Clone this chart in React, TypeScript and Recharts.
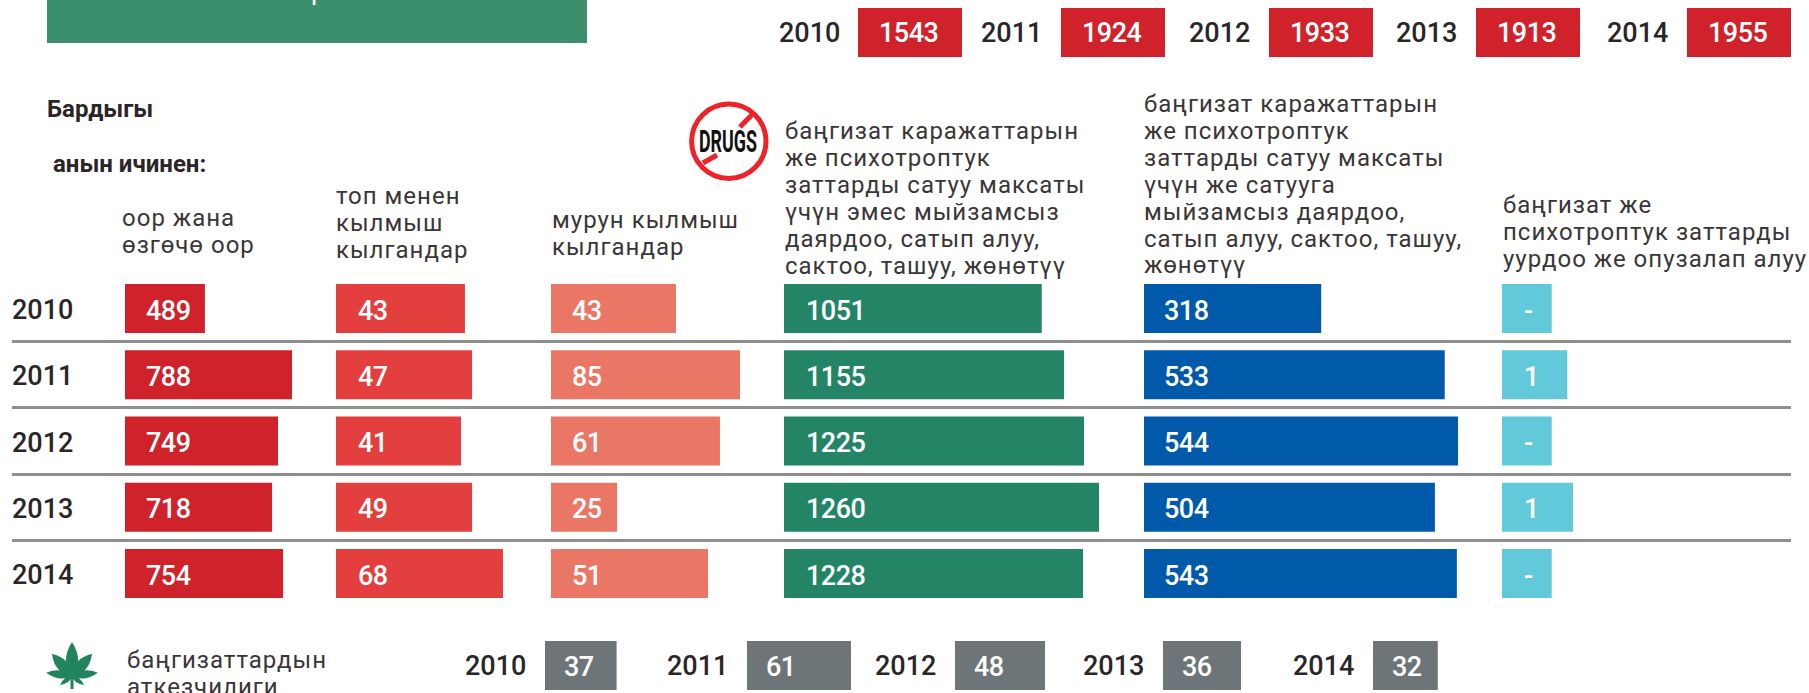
// App.tsx
import React from 'react';
import { BarChart, Bar, XAxis, YAxis, LabelList } from 'recharts';

const years = ['2010', '2011', '2012', '2013', '2014'];

// Printed numbers. The infographic's bars are not to scale with them, so each
// column also has the length the bar is actually drawn at, in that column's units.
const totalPrinted = [1543, 1924, 1933, 1913, 1955];
const totalDrawn = [1955, 1955, 1955, 1955, 1955];

const robberyPrinted = [489, 788, 749, 718, 754];
const robberyDrawn = [377, 788, 722, 694, 746];

const groupPrinted = [43, 47, 41, 49, 68];
const groupDrawn = [52.5, 55.4, 50.9, 55.4, 68];

const repeatPrinted = [43, 85, 61, 25, 51];
const repeatDrawn = [56.2, 85, 76, 29.7, 70.6];

const noSalePrinted = [1051, 1155, 1225, 1260, 1228];
const noSaleDrawn = [1031, 1120, 1200, 1260, 1196];

const salePrinted = [318, 533, 544, 504, 543];
const saleDrawn = [307, 521, 544, 504, 542];

const theftPrinted = ['-', '1', '-', '1', '-'];
const theftDrawn = [0.7, 0.92, 0.7, 1, 0.7];

const addictsPrinted = [37, 61, 48, 36, 32];
const addictsDrawn = [42, 61, 53, 46, 38];

const headRobbery = ['оор жана', 'өзгөчө оор'];
const headGroup = ['топ менен', 'кылмыш', 'кылгандар'];
const headRepeat = ['мурун кылмыш', 'кылгандар'];
const headNoSale = [
  'баңгизат каражаттарын',
  'же психотроптук',
  'заттарды сатуу максаты',
  'үчүн эмес мыйзамсыз',
  'даярдоо, сатып алуу,',
  'сактоо, ташуу, жөнөтүү',
];
const headSale = [
  'баңгизат каражаттарын',
  'же психотроптук',
  'заттарды сатуу максаты',
  'үчүн же сатууга',
  'мыйзамсыз даярдоо,',
  'сатып алуу, сактоо, ташуу,',
  'жөнөтүү',
];
const headTheft = ['баңгизат же', 'психотроптук заттарды', 'уурдоо же опузалап алуу'];
const headAddicts = ['баңгизаттардын', 'аткезчилиги'];

const FONT = 'Roboto, sans-serif';
const INK = '#2a2627';

const toRows = (drawn: number[], printed: (number | string)[]) =>
  years.map((year, i) => ({ year, drawn: drawn[i], printed: printed[i] }));

// five stacked rows share the same band height
const ROW = 66.25;
const ROWS_TOP = 275.4;

const valueLabel = (inset: number, dy: number) => (
  <LabelList
    dataKey="printed"
    position="insideLeft"
    offset={inset}
    dy={dy}
    fill="#fff"
    fontSize={27}
    fontWeight={500}
    fontFamily={FONT}
    letterSpacing={-0.5}
  />
);

const Column = ({ x, width, max, drawn, printed, fill, inset = 21, showYears = false }: any) => (
  <div style={{ position: 'absolute', left: showYears ? 0 : x, top: ROWS_TOP }}>
    <BarChart
      layout="vertical"
      width={showYears ? x + width : width}
      height={ROW * 5}
      data={toRows(drawn, printed)}
      margin={{ top: 0, right: 0, bottom: 0, left: 0 }}
    >
      <XAxis type="number" hide domain={[0, max]} />
      <YAxis
        type="category"
        dataKey="year"
        hide={!showYears}
        width={showYears ? x : 0}
        axisLine={false}
        tickLine={false}
        tick={({ y, payload }: any) => (
          <text x={12} y={y + 11} fill={INK} fontSize={27} fontWeight={500} fontFamily={FONT}>
            {payload.value}
          </text>
        )}
      />
      <Bar dataKey="drawn" fill={fill} barSize={49} isAnimationActive={false}>
        {valueLabel(inset, 1.5)}
      </Bar>
    </BarChart>
  </div>
);

const Tile = ({ x, top, width, max, drawn, printed, fill, inset, year, yearX, labelDy }: any) => (
  <>
    <Txt x={yearX} y={top + 24.5} size={27} weight={500}>
      {year}
    </Txt>
    <div style={{ position: 'absolute', left: x, top }}>
      <BarChart
        layout="vertical"
        width={width}
        height={49}
        barCategoryGap={0}
        data={[{ year, drawn, printed }]}
        margin={{ top: 0, right: 0, bottom: 0, left: 0 }}
      >
        <XAxis type="number" hide domain={[0, max]} />
        <YAxis type="category" dataKey="year" hide />
        <Bar dataKey="drawn" fill={fill} isAnimationActive={false}>
          {valueLabel(inset, labelDy)}
        </Bar>
      </BarChart>
    </div>
  </>
);

const Txt = ({ x, y, size, weight = 400, children }: any) => (
  <div
    style={{
      position: 'absolute',
      left: x,
      top: y - 20,
      lineHeight: '40px',
      fontSize: size,
      fontWeight: weight,
      fontFamily: FONT,
      color: INK,
      whiteSpace: 'pre',
    }}
  >
    {children}
  </div>
);

const Header = ({ x, y, lines }: { x: number; y: number; lines: string[] }) => (
  <>
    {lines.map((line, i) => (
      <div
        key={i}
        style={{
          position: 'absolute',
          left: x,
          top: y + i * 26.9 - 22,
          lineHeight: '40px',
          fontSize: 24,
          letterSpacing: 1,
          fontFamily: FONT,
          color: '#3a3637',
          whiteSpace: 'pre',
        }}
      >
        {line}
      </div>
    ))}
  </>
);

const DrugsIcon = () => (
  <svg style={{ position: 'absolute', left: 686, top: 100, overflow: 'visible' }} width={84} height={84}>
    <circle cx={42.8} cy={41.3} r={37.2} fill="#fff" stroke="#ee2329" strokeWidth={5} />
    <line x1={65.7} y1={15} x2={54} y2={27} stroke="#ee2329" strokeWidth={5} />
    <line x1={17} y1={63} x2={31} y2={55} stroke="#ee2329" strokeWidth={5} />
    <text
      x={42}
      y={52}
      textAnchor="middle"
      textLength={58}
      lengthAdjust="spacingAndGlyphs"
      fontSize={31}
      fontWeight={700}
      fontFamily={FONT}
      fill="#111"
    >
      DRUGS
    </text>
  </svg>
);

const leafLobes = [
  { angle: 0, length: 34, half: 7.5 },
  { angle: 42, length: 30, half: 7 },
  { angle: -42, length: 30, half: 7 },
  { angle: 83, length: 26, half: 5 },
  { angle: -83, length: 26, half: 5 },
  { angle: 127, length: 15, half: 3 },
  { angle: -127, length: 15, half: 3 },
];

const LeafIcon = () => (
  <svg style={{ position: 'absolute', left: 44, top: 640 }} width={56} height={53}>
    <g transform="translate(28,36)">
      {leafLobes.map((lobe) => (
        <path
          key={lobe.angle}
          transform={`rotate(${lobe.angle})`}
          d={`M0,0 Q${lobe.half * 1.6},${-lobe.length * 0.45} 0,${-lobe.length} Q${-lobe.half * 1.6},${-lobe.length * 0.45} 0,0`}
          fill="#22835f"
        />
      ))}
      <rect x={-1.5} y={0} width={3} height={13} fill="#22835f" />
    </g>
  </svg>
);

const topTileX = [858, 1061, 1269, 1476, 1687];
const topYearX = [779, 981, 1189, 1396, 1607];
const lowTileX = [545, 747, 955, 1163, 1373];
const lowYearX = [465, 667, 875, 1083, 1293];
const LOW_UNIT = 104 / 61;

export default function App() {
  return (
    <div
      style={{
        position: 'absolute',
        left: 0,
        top: 0,
        width: 1809,
        height: 693,
        overflow: 'hidden',
        background: '#fff',
        fontFamily: FONT,
      }}
    >
      <div style={{ position: 'absolute', left: 47, top: 0, width: 540, height: 43, background: '#3a8f6f' }} />
      <div
        style={{
          position: 'absolute',
          left: 311,
          top: -25,
          color: '#fff',
          fontSize: 27,
          lineHeight: '30px',
        }}
      >
        р
      </div>

      {years.map((year, i) => (
        <Tile
          key={year}
          year={year}
          yearX={topYearX[i]}
          x={topTileX[i]}
          top={8}
          width={104}
          max={1955}
          drawn={totalDrawn[i]}
          printed={totalPrinted[i]}
          fill="#d0222a"
          inset={21}
          labelDy={0}
        />
      ))}

      <Txt x={47} y={109} size={24} weight={700}>
        Бардыгы
      </Txt>
      <Txt x={53} y={164} size={24} weight={700}>
        анын ичинен:
      </Txt>
      <DrugsIcon />

      <Header x={122} y={220} lines={headRobbery} />
      <Header x={336} y={198} lines={headGroup} />
      <Header x={552} y={222} lines={headRepeat} />
      <Header x={785} y={133} lines={headNoSale} />
      <Header x={1144} y={106} lines={headSale} />
      <Header x={1503} y={207} lines={headTheft} />

      {[1, 2, 3, 4].map((k) => (
        <div
          key={k}
          style={{
            position: 'absolute',
            left: 12,
            top: ROWS_TOP + ROW * k - 1.5,
            width: 1779,
            height: 3,
            background: '#8f8f8f',
          }}
        />
      ))}

      <Column showYears x={125} width={167} max={788} drawn={robberyDrawn} printed={robberyPrinted} fill="#d0222a" />
      <Column x={336} width={167} max={68} drawn={groupDrawn} printed={groupPrinted} fill="#e33f3e" inset={22} />
      <Column x={551} width={189} max={85} drawn={repeatDrawn} printed={repeatPrinted} fill="#ea7765" />
      <Column x={784} width={315} max={1260} drawn={noSaleDrawn} printed={noSalePrinted} fill="#248466" inset={22} />
      <Column x={1144} width={314} max={544} drawn={saleDrawn} printed={salePrinted} fill="#0059a9" inset={20} />
      <Column x={1502} width={71} max={1} drawn={theftDrawn} printed={theftPrinted} fill="#62c9da" inset={22} />

      <LeafIcon />
      <Header x={127} y={662} lines={headAddicts} />
      {years.map((year, i) => (
        <Tile
          key={year}
          year={year}
          yearX={lowYearX[i]}
          x={lowTileX[i]}
          top={641}
          width={addictsDrawn[i] * LOW_UNIT}
          max={addictsDrawn[i]}
          drawn={addictsDrawn[i]}
          printed={addictsPrinted[i]}
          fill="#6e7578"
          inset={19}
          labelDy={1}
        />
      ))}
    </div>
  );
}
